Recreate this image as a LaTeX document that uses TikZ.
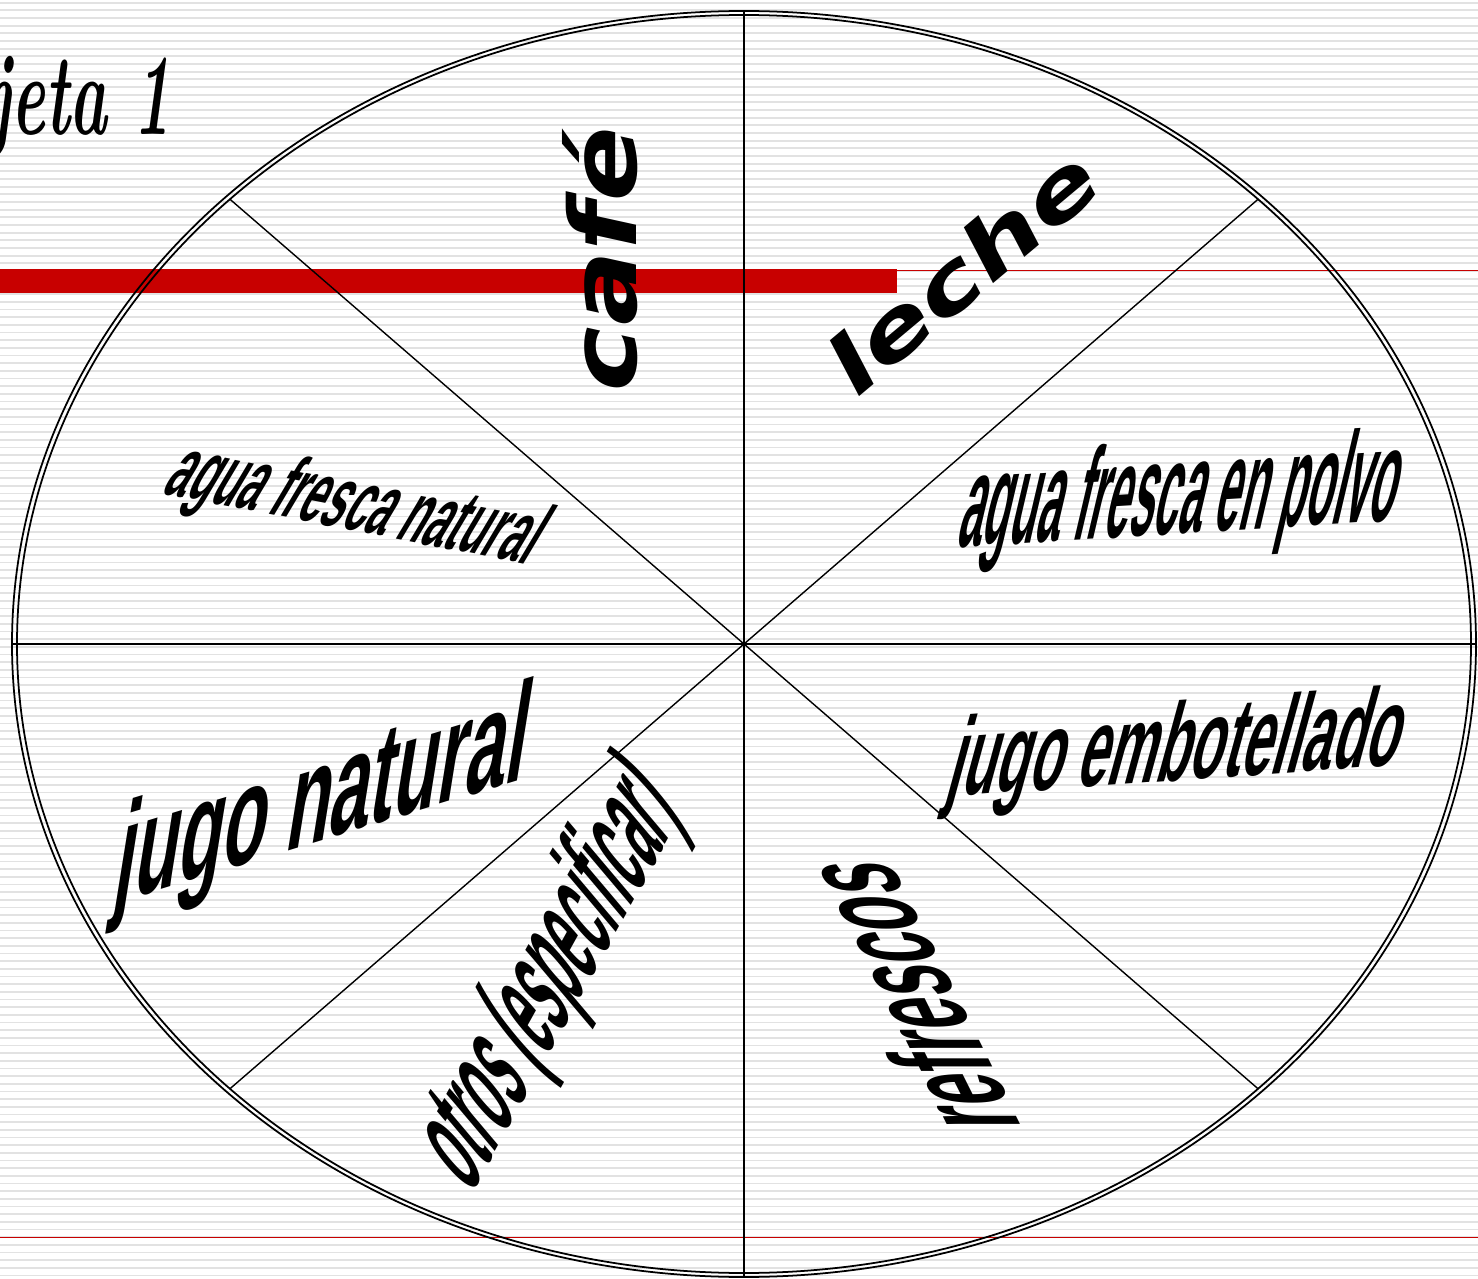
\documentclass[tikz,border=0pt]{standalone}
\usepackage{fontspec}
\usepackage{graphicx}
\usetikzlibrary{calc}
\newfontfamily\armfont{Liberation Sans}
\newfontfamily\widefont{DejaVu Sans}
\definecolor{cardred}{RGB}{200,0,0}
\definecolor{stripegray}{RGB}{226,226,226}

\begin{document}
\begin{tikzpicture}[
x=0.01cm, y=-0.01cm,
stripe/.style={stripegray,line width=0.5pt},
redline/.style={cardred,line width=0.42pt},
rim/.style={line width=0.5pt},
spoke/.style={line width=0.4pt},
narrow/.style={inner sep=0pt,font=\armfont\bfseries},
wide/.style={inner sep=0pt,font=\widefont\bfseries},
title/.style={inner sep=0pt,anchor=base east,font=\fontsize{33}{40}\selectfont\bfseries\itshape} ]

\useasboundingbox (0,0) rectangle (1478,1279);
\clip (0,0) rectangle (1478,1279);

\foreach \k in {0,...,166}
  \draw[stripe] (0,{2.7+\k*7.667}) -- (1478,{2.7+\k*7.667});

\fill[cardred] (0,269) rectangle (897,293);
\draw[redline] (897,270.5) -- (1478,270.5);
\draw[redline] (0,1237.7) -- (1478,1237.7);

\node[title,xscale=0.55](tarjeta) at (172,135) {Tarjeta 1};

\coordinate (ctr) at (744,644);
\draw[rim] (ctr) ellipse [x radius=732, y radius=633];
\draw[rim] (ctr) ellipse [x radius=727, y radius=629];

\foreach \a/\rx/\ry in {0/732/633,45/727/629,90/732/633,135/727/629,180/732/633,225/727/629,270/732/633,315/727/629}
  \path (ctr) ++(\a:{\rx} and {\ry}) coordinate (rim\a);

\foreach \a/\b in {0/180,45/225,90/270,135/315}
  \draw[spoke] (rim\a) -- (rim\b);

\node[wide,rotate=90,xslant=0.22](cafe) at (600,257) {\resizebox{2.65cm}{0.74cm}{café}};

\node[wide,rotate=40,xslant=0.22](leche) at (963,270) {\resizebox{3.27cm}{0.615cm}{leche}};

\node[narrow,rotate=-11,xslant=0.36](aguanat) at (356,508) {\resizebox{3.72cm}{0.64cm}{agua fresca natural}};

\node[narrow,rotate=3.5,xslant=0.3](aguapol) at (1182,500) {\resizebox{4.38cm}{0.94cm}{agua fresca en polvo}};

\node[narrow,rotate=17,xslant=0.49](jugonat) at (323,805) {\resizebox{4.3cm}{0.95cm}{jugo natural}};

\node[narrow,rotate=4,xslant=0.35](jugoemb) at (1178,752) {\resizebox{4.52cm}{0.8cm}{jugo embotellado}};

\node[narrow,rotate=61,xslant=0.38](otros) at (552,978) {\resizebox{4.35cm}{0.96cm}{otros (especificar)}};

\node[narrow,rotate=116.5,xslant=0.5](refrescos) at (907,995) {\resizebox{2.97cm}{0.9cm}{refrescos}};

\end{tikzpicture}
\end{document}
